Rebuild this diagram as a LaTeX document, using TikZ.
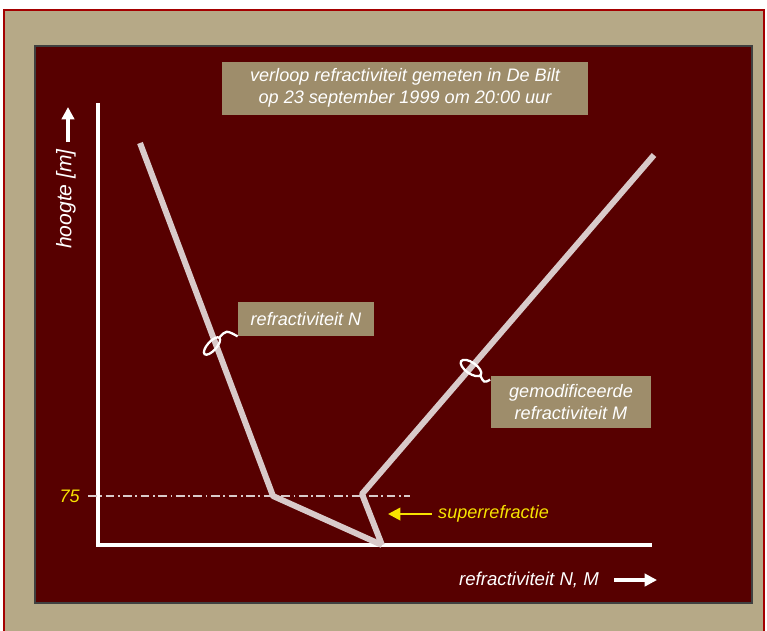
\documentclass[tikz,border=0pt]{standalone}
\usepackage{fontspec}
\setmainfont{Liberation Sans}
\usetikzlibrary{arrows.meta,positioning}
\definecolor{beige}{HTML}{B6A987}
\definecolor{panel}{HTML}{570000}
\definecolor{kader}{HTML}{9E8D6B}
\definecolor{lijn}{HTML}{D9CACA}
\definecolor{geel}{HTML}{F7E300}
\definecolor{rand}{HTML}{A40000}
\tikzset{
  labelbox/.style={fill=kader, text=white, font=\fontsize{10.3}{12.5}\selectfont\itshape, align=center, inner sep=0pt},
  curve/.style={lijn, line width=3.4pt, line join=round},
  as/.style={white, line width=1.8pt},
  lus/.style={white, line width=1.3pt}
}
\begin{document}
\begin{tikzpicture}[x=0.02cm, y=-0.02cm]
      \useasboundingbox (0, 0) rectangle (767, 630);
      \fill [white] (0, 0) rectangle (767, 630);
      \draw [rand, line width=1pt, fill=beige] (4, 10) rectangle (764, 640);
      \draw [black!75, line width=1.2pt, fill=panel] (35, 46) rectangle (752, 603);
      \node [labelbox, minimum width=7.32cm, minimum height=1.06cm] (titel) at (405, 88)
            {verloop refractiviteit gemeten in De Bilt\\op 23 september 1999 om 20:00 uur};
      \coordinate (oorsprong) at (98, 545);
      \coordinate (ytop) at (98, 103);
      \coordinate (xeind) at (652, 545);
      \draw [as] (ytop) -- (oorsprong) -- (xeind);
      \node [text=white, font=\fontsize{12}{14}\selectfont\itshape, rotate=90] (hoogte) at (66, 199) {hoogte [m]};
      \draw [white, line width=2pt, -{Triangle[length=7pt, width=7pt]}] (68, 142) -- (68, 107);
      \node [text=geel, font=\fontsize{10.3}{12}\selectfont\itshape, anchor=east] (hoogte75) at (86, 496) {75};
      \draw [lijn, line width=0.7pt, dash pattern=on 5pt off 2pt on 1pt off 2pt] (88, 496) -- (410, 496);
      \coordinate (n1) at (140, 143);
      \coordinate (n2) at (273, 496);
      \coordinate (voet) at (382, 545);
      \coordinate (m1) at (654, 155);
      \coordinate (m2) at (362, 494);
      \draw [curve] (n1) -- (n2) -- (voet);
      \draw [curve] (m1) -- (m2) -- (voet);
      \node [labelbox, minimum width=2.72cm, minimum height=0.68cm] (labeln) at (306, 319) {refractiviteit N};
      \node [labelbox, minimum width=3.22cm, minimum height=1.04cm] (labelm) at (571, 402) {gemodificeerde\\refractiviteit M};
      \draw [lus] (212, 346) ellipse [x radius=11, y radius=4.5, rotate=48];
      \draw [lus] (219, 338) .. controls (226, 330) .. (labeln.south west);
      \draw [lus] (471, 368) ellipse [x radius=12, y radius=5.5, rotate=-35];
      \draw [lus] (480, 375) .. controls (484, 383) .. ([yshift=-0.08cm]labelm.north west);
      \node [text=geel, font=\fontsize{10.3}{12}\selectfont\itshape, anchor=west] (superref) at (432, 514) {superrefractie};
      \draw [geel, line width=1.5pt, -{Triangle[length=7pt, width=7pt]}] (superref.west) -- (388, 514);
      \node [text=white, font=\fontsize{10.6}{12}\selectfont\itshape] (xlabel) at (529, 580) {refractiviteit N, M};
      \draw [white, line width=2pt, -{Triangle[length=7pt, width=7pt]}] (614, 580) -- (657, 580);
\end{tikzpicture}
\end{document}
